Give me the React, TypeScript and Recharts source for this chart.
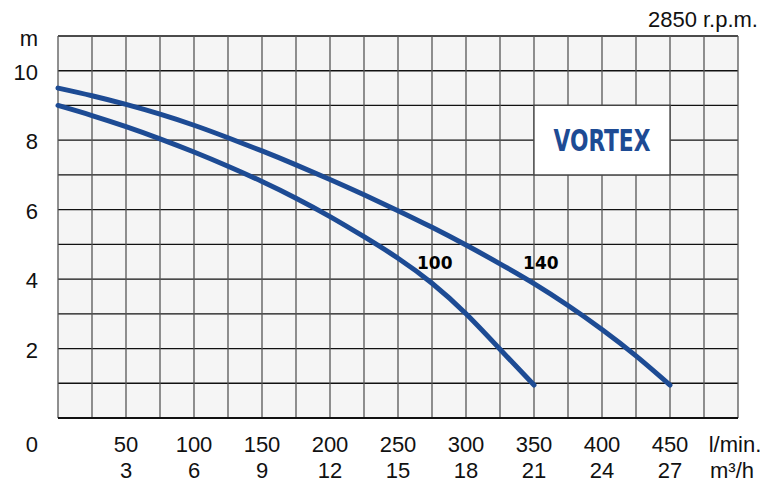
import {
  CartesianGrid,
  Line,
  LineChart,
  ReferenceArea,
  ReferenceDot,
  XAxis,
  YAxis,
} from 'recharts'

// flow in l/min, head in m
const flow = [0, 25, 50, 75, 100, 125, 150, 175, 200, 225, 250, 275, 300, 325, 350, 375, 400, 425, 450]
const head140 = [9.5, 9.28, 9.03, 8.75, 8.43, 8.07, 7.69, 7.29, 6.87, 6.43, 5.97, 5.49, 4.98, 4.44, 3.87, 3.24, 2.55, 1.79, 0.95]
const head100 = [9.0, 8.71, 8.39, 8.04, 7.66, 7.25, 6.81, 6.33, 5.8, 5.22, 4.6, 3.88, 3.0, 1.98, 0.95]

const gridX = [0, 25, 50, 75, 100, 125, 150, 175, 200, 225, 250, 275, 300, 325, 350, 375, 400, 425, 450, 475, 500]
const gridY = [0, 1, 2, 3, 4, 5, 6, 7, 8, 9, 10, 11]

const flowTicks = [50, 100, 150, 200, 250, 300, 350, 400, 450]
const flowTickLabels = ['50', '100', '150', '200', '250', '300', '350', '400', '450']
const m3hTickLabels = ['3', '6', '9', '12', '15', '18', '21', '24', '27']
const headTicks = [0, 2, 4, 6, 8, 10]
const headTickLabels = ['0', '2', '4', '6', '8', '10']

const rows = flow.map((q, i) => ({
  q,
  h140: head140[i],
  h100: i < head100.length ? head100[i] : null,
}))

const BLUE = '#1d4b94'
const FONT = '"Liberation Sans", Arial, sans-serif'

function FlowTick({ x, payload }: any) {
  const v = payload.value
  const i = flowTicks.indexOf(v)
  let top: string | null = null
  let bottom: string | null = null
  if (i >= 0) {
    top = flowTickLabels[i]
    bottom = m3hTickLabels[i]
  } else if (v === 500) {
    top = 'l/min.'
    bottom = 'm³/h'
  }
  if (!top) return <g />
  const base = 452
  return (
    <text textAnchor="middle" fontSize={22} fill="#111" fontFamily={FONT}>
      <tspan x={v === 500 ? x - 3 : x} y={base}>{top}</tspan>
      <tspan x={v === 500 ? x - 6 : x} y={base + 26}>{bottom}</tspan>
    </text>
  )
}

function HeadTick({ y, payload }: any) {
  const v = payload.value
  const i = headTicks.indexOf(v)
  let label: string | null = null
  if (i >= 0) label = headTickLabels[i]
  else if (v === 11) label = 'm'
  if (!label) return <g />
  const ty = v === 0 ? 452 : v === 11 ? y + 10 : y + 9
  return (
    <text x={38} y={ty} textAnchor="end" fontSize={22} fill="#111" fontFamily={FONT}>
      {label}
    </text>
  )
}

function VortexLabel(props: any) {
  const vb = props.viewBox || {}
  const cx = vb.x + vb.width / 2
  const cy = vb.y + vb.height / 2
  return (
    <text
      x={cx}
      y={cy + 11}
      textAnchor="middle"
      fontSize={30}
      fontWeight="bold"
      fill={BLUE}
      fontFamily='"DejaVu Sans Condensed", "DejaVu Sans", sans-serif'
      textLength={97}
      lengthAdjust="spacingAndGlyphs"
    >
      VORTEX
    </text>
  )
}

const curveTag = (text: string) => (p: any) => (
  <text
    x={p.cx}
    y={p.cy + 6}
    textAnchor="middle"
    fontSize={17}
    fontWeight="bold"
    fill="#000"
    fontFamily='"DejaVu Sans", sans-serif'
  >
    {text}
  </text>
)

export default function App() {
  return (
    <div style={{ position: 'absolute', left: 0, top: 0, width: 773, height: 484, background: '#fff' }}>
      <div
        style={{
          position: 'absolute',
          right: 15,
          top: 9,
          fontFamily: FONT,
          fontSize: 22,
          lineHeight: '22px',
          color: '#111',
          zIndex: 2,
        }}
      >
        2850 r.p.m.
      </div>
      <LineChart width={773} height={484} data={rows} margin={{ top: 36, right: 35, left: 0, bottom: 0 }}>
        <CartesianGrid fill="#f5f5f5" stroke="#111" strokeWidth={1.3} vertical={false} />
        <CartesianGrid stroke="#555" strokeWidth={1.3} horizontal={false} />
        <XAxis
          dataKey="q"
          type="number"
          domain={[0, 500]}
          ticks={gridX}
          interval={0}
          height={66}
          tickLine={false}
          axisLine={{ stroke: '#111', strokeWidth: 2 }}
          tick={<FlowTick />}
        />
        <YAxis
          type="number"
          domain={[0, 11]}
          ticks={gridY}
          interval={0}
          width={58}
          tickLine={false}
          axisLine={false}
          tick={<HeadTick />}
        />
        <ReferenceArea
          x1={350}
          x2={450}
          y1={7}
          y2={9}
          fill="#fff"
          fillOpacity={1}
          stroke="#444"
          strokeWidth={1.3}
          label={(p: any) => <VortexLabel {...p} />}
        />
        <Line
          type="natural"
          dataKey="h140"
          stroke={BLUE}
          strokeWidth={5}
          strokeLinecap="round"
          dot={false}
          isAnimationActive={false}
        />
        <Line
          type="natural"
          dataKey="h100"
          stroke={BLUE}
          strokeWidth={5}
          strokeLinecap="round"
          dot={false}
          isAnimationActive={false}
        />
        <ReferenceDot x={277} y={4.46} r={0} shape={curveTag('100')} />
        <ReferenceDot x={355} y={4.46} r={0} shape={curveTag('140')} />
      </LineChart>
    </div>
  )
}
